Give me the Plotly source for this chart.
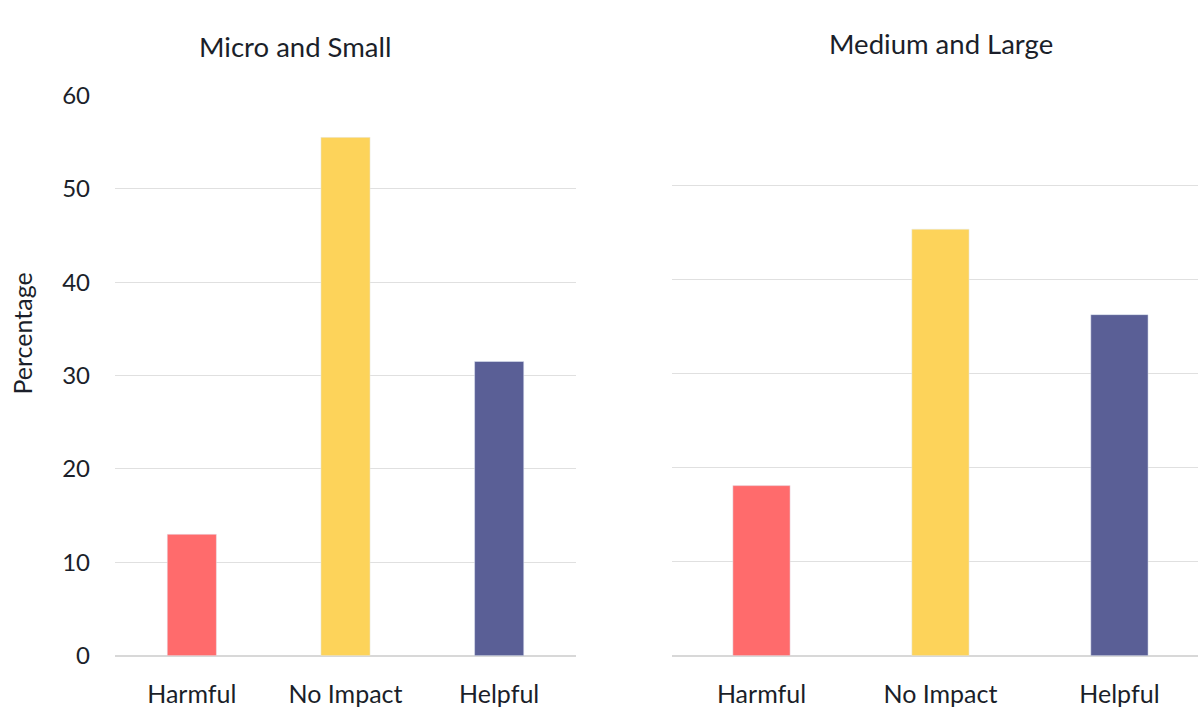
import plotly.graph_objects as go

categories = ["Harmful", "No Impact", "Helpful"]
micro_small = [13.0, 55.5, 31.5]
medium_large = [18.1, 45.4, 36.3]
bar_colors = ["#FF6B6C", "#FDD35A", "#5A5F96"]
panel_titles = ["Micro and Small", "Medium and Large"]
y_ticks = [0, 10, 20, 30, 40, 50, 60]

W, H = 1198, 715
FONT = "Lato, Source Sans Pro, sans-serif"
TXT = "#1b1f2a"

fig = go.Figure()
fig.add_trace(go.Bar(x=categories, y=micro_small, marker_color=bar_colors,
                     xaxis="x", yaxis="y", showlegend=False))
fig.add_trace(go.Bar(x=categories, y=medium_large, marker_color=bar_colors,
                     xaxis="x2", yaxis="y2", showlegend=False))

def px_x(p):
    return p / W

def px_y(p):
    return 1 - p / H

common_y = dict(range=[0, 60], tickvals=y_ticks, showgrid=True, gridcolor="#e0e0e0",
                gridwidth=1, zeroline=True, zerolinecolor="#d8d8d8", zerolinewidth=2,
                showline=False, fixedrange=True)
common_x = dict(showgrid=False, showline=False, zeroline=False, ticks="",
                tickfont=dict(size=25, color=TXT, family=FONT), ticklabelstandoff=21,
                fixedrange=True)

fig.update_layout(
    width=W, height=H,
    margin=dict(l=0, r=0, t=0, b=0),
    paper_bgcolor="white", plot_bgcolor="white",
    bargap=0.68,
    font=dict(family=FONT, color=TXT),
    xaxis=dict(domain=[px_x(115), px_x(576)], anchor="y", range=[-0.5, 2.5], **common_x),
    xaxis2=dict(domain=[px_x(672), 1.0], anchor="y2", range=[-0.5, 2.439], **common_x),
    yaxis=dict(domain=[px_y(666.7), px_y(82.7)], anchor="x",
               tickfont=dict(size=24, color=TXT, family=FONT), ticklabelstandoff=24,
               **common_y),
    yaxis2=dict(domain=[px_y(666.7), px_y(79.2)], anchor="x2", showticklabels=False,
                **common_y),
    annotations=[
        dict(text=panel_titles[0], x=px_x(295), y=px_y(32), xref="paper", yref="paper",
             showarrow=False, xanchor="center", yanchor="middle",
             font=dict(size=27.5, color=TXT, family=FONT)),
        dict(text=panel_titles[1], x=px_x(941), y=px_y(29), xref="paper", yref="paper",
             showarrow=False, xanchor="center", yanchor="middle",
             font=dict(size=27.5, color=TXT, family=FONT)),
        dict(text="Percentage", x=px_x(22), y=px_y(331), xref="paper", yref="paper",
             showarrow=False, xanchor="center", yanchor="middle", textangle=-90,
             font=dict(size=25, color=TXT, family=FONT)),
    ],
)

fig.write_html("out.html")
